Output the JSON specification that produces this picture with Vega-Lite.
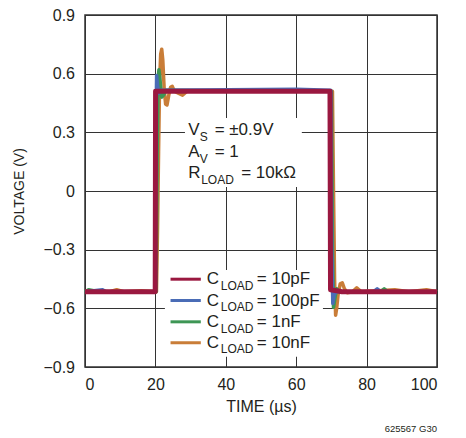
{
  "$schema": "https://vega.github.io/schema/vega-lite/v6.json",
  "autosize": {"type": "none"},
  "width": 352,
  "height": 352,
  "padding": {"left": 85, "top": 15, "right": 29, "bottom": 71},
  "background": "white",
  "data": {"values": [{}]},
  "config": {
    "view": {"stroke": "#333333", "strokeWidth": 1.5},
    "font": "Liberation Sans",
    "text": {"font": "Liberation Sans", "color": "#231F20"},
    "axis": {
      "grid": true, "gridColor": "#333333", "gridWidth": 1, "gridOpacity": 1,
      "domain": false, "ticks": false, "tickSize": 0,
      "labelFont": "Liberation Sans", "labelFontSize": 16, "labelColor": "#231F20",
      "titleFont": "Liberation Sans", "titleFontWeight": "normal", "titleColor": "#231F20"
    }
  },
  "datasets": {
    "traces": [
      {"s": "10nF", "t": 0, "v": -0.515}, {"s": "10nF", "t": 3, "v": -0.51}, {"s": "10nF", "t": 7, "v": -0.515}, {"s": "10nF", "t": 9, "v": -0.505}, {"s": "10nF", "t": 11, "v": -0.515}, {"s": "10nF", "t": 16, "v": -0.51}, {"s": "10nF", "t": 20.3, "v": -0.515},
      {"s": "10nF", "t": 20.6, "v": -0.2}, {"s": "10nF", "t": 20.9, "v": 0.2}, {"s": "10nF", "t": 21.2, "v": 0.56}, {"s": "10nF", "t": 21.5, "v": 0.7}, {"s": "10nF", "t": 21.8, "v": 0.725}, {"s": "10nF", "t": 22.1, "v": 0.67}, {"s": "10nF", "t": 22.5, "v": 0.52}, {"s": "10nF", "t": 22.9, "v": 0.445}, {"s": "10nF", "t": 23.3, "v": 0.44}, {"s": "10nF", "t": 23.8, "v": 0.49}, {"s": "10nF", "t": 24.3, "v": 0.53}, {"s": "10nF", "t": 24.8, "v": 0.535}, {"s": "10nF", "t": 25.4, "v": 0.51}, {"s": "10nF", "t": 26.5, "v": 0.5}, {"s": "10nF", "t": 27.7, "v": 0.49}, {"s": "10nF", "t": 29, "v": 0.51}, {"s": "10nF", "t": 45, "v": 0.512}, {"s": "10nF", "t": 70.3, "v": 0.51},
      {"s": "10nF", "t": 70.6, "v": 0.0}, {"s": "10nF", "t": 70.9, "v": -0.45}, {"s": "10nF", "t": 71.2, "v": -0.635}, {"s": "10nF", "t": 71.5, "v": -0.6}, {"s": "10nF", "t": 71.9, "v": -0.53}, {"s": "10nF", "t": 72.5, "v": -0.475}, {"s": "10nF", "t": 73.1, "v": -0.47}, {"s": "10nF", "t": 73.7, "v": -0.5}, {"s": "10nF", "t": 74.5, "v": -0.52}, {"s": "10nF", "t": 76, "v": -0.515}, {"s": "10nF", "t": 77.2, "v": -0.495}, {"s": "10nF", "t": 78.5, "v": -0.515}, {"s": "10nF", "t": 88, "v": -0.505}, {"s": "10nF", "t": 92, "v": -0.515}, {"s": "10nF", "t": 97, "v": -0.505}, {"s": "10nF", "t": 100, "v": -0.515},

      {"s": "1nF", "t": 0, "v": -0.515}, {"s": "1nF", "t": 1, "v": -0.505}, {"s": "1nF", "t": 4, "v": -0.515}, {"s": "1nF", "t": 20.2, "v": -0.515}, {"s": "1nF", "t": 20.5, "v": 0.2}, {"s": "1nF", "t": 20.8, "v": 0.58}, {"s": "1nF", "t": 21.0, "v": 0.62}, {"s": "1nF", "t": 21.3, "v": 0.57}, {"s": "1nF", "t": 21.8, "v": 0.48}, {"s": "1nF", "t": 22.3, "v": 0.49}, {"s": "1nF", "t": 23, "v": 0.515}, {"s": "1nF", "t": 50, "v": 0.51}, {"s": "1nF", "t": 70.0, "v": 0.51},
      {"s": "1nF", "t": 70.3, "v": -0.3}, {"s": "1nF", "t": 70.6, "v": -0.595}, {"s": "1nF", "t": 71.0, "v": -0.55}, {"s": "1nF", "t": 71.5, "v": -0.5}, {"s": "1nF", "t": 72.2, "v": -0.515}, {"s": "1nF", "t": 84, "v": -0.515}, {"s": "1nF", "t": 85, "v": -0.5}, {"s": "1nF", "t": 86, "v": -0.515}, {"s": "1nF", "t": 100, "v": -0.515},

      {"s": "100pF", "t": 0, "v": -0.515}, {"s": "100pF", "t": 5, "v": -0.505}, {"s": "100pF", "t": 6, "v": -0.515}, {"s": "100pF", "t": 19.9, "v": -0.515}, {"s": "100pF", "t": 20.1, "v": 0.3}, {"s": "100pF", "t": 20.35, "v": 0.59}, {"s": "100pF", "t": 20.6, "v": 0.54}, {"s": "100pF", "t": 21.0, "v": 0.5}, {"s": "100pF", "t": 21.6, "v": 0.515}, {"s": "100pF", "t": 60, "v": 0.52}, {"s": "100pF", "t": 69.8, "v": 0.515},
      {"s": "100pF", "t": 70.1, "v": -0.3}, {"s": "100pF", "t": 70.4, "v": -0.575}, {"s": "100pF", "t": 70.8, "v": -0.53}, {"s": "100pF", "t": 71.4, "v": -0.515}, {"s": "100pF", "t": 82, "v": -0.515}, {"s": "100pF", "t": 83, "v": -0.5}, {"s": "100pF", "t": 84, "v": -0.515}, {"s": "100pF", "t": 100, "v": -0.515},

      {"s": "10pF", "t": 0, "v": -0.515}, {"s": "10pF", "t": 19.95, "v": -0.515}, {"s": "10pF", "t": 20.05, "v": 0.51}, {"s": "10pF", "t": 69.6, "v": 0.51}, {"s": "10pF", "t": 69.75, "v": -0.505}, {"s": "10pF", "t": 71.5, "v": -0.51}, {"s": "10pF", "t": 73, "v": -0.515}, {"s": "10pF", "t": 100, "v": -0.515}
    ]
  },
  "layer": [
    {
      "mark": {"type": "rect", "color": "white"},
      "encoding": {
        "x": {"datum": 28.4, "type": "quantitative", "scale": {"domain": [0, 100], "nice": false},
          "axis": {"values": [0, 20, 40, 60, 80, 100], "title": "TIME (µs)", "titleFontSize": 16, "labelPadding": 9, "titlePadding": 6}},
        "x2": {"datum": 61.6},
        "y": {"datum": 0.373, "type": "quantitative", "scale": {"domain": [-0.9, 0.9], "nice": false},
          "axis": {"values": [-0.9, -0.6, -0.3, 0, 0.3, 0.6, 0.9], "labelExpr": "datum.value == 0 ? '0' : format(datum.value, '.1f')", "title": "VOLTAGE (V)", "titleFontSize": 14, "labelPadding": 10.5, "titlePadding": 16}},
        "y2": {"datum": 0.021}
      }
    },
    {
      "mark": {"type": "rect", "color": "white"},
      "encoding": {"x": {"datum": 22.7}, "x2": {"datum": 67.6}, "y": {"datum": -0.404}, "y2": {"datum": -0.848}}
    },
    {
      "data": {"name": "traces"},
      "transform": [{"filter": "datum.s == '10nF'"}],
      "mark": {"type": "line", "color": "#C97D38", "strokeWidth": 3.5, "strokeJoin": "round"},
      "encoding": {"x": {"field": "t", "type": "quantitative"}, "y": {"field": "v", "type": "quantitative"}}
    },
    {
      "data": {"name": "traces"},
      "transform": [{"filter": "datum.s == '1nF'"}],
      "mark": {"type": "line", "color": "#3E9655", "strokeWidth": 3.5, "strokeJoin": "round"},
      "encoding": {"x": {"field": "t", "type": "quantitative"}, "y": {"field": "v", "type": "quantitative"}}
    },
    {
      "data": {"name": "traces"},
      "transform": [{"filter": "datum.s == '100pF'"}],
      "mark": {"type": "line", "color": "#4A6CB6", "strokeWidth": 3.5, "strokeJoin": "round"},
      "encoding": {"x": {"field": "t", "type": "quantitative"}, "y": {"field": "v", "type": "quantitative"}}
    },
    {
      "data": {"name": "traces"},
      "transform": [{"filter": "datum.s == '10pF'"}],
      "mark": {"type": "line", "color": "#9A1840", "strokeWidth": 5, "strokeJoin": "round"},
      "encoding": {"x": {"field": "t", "type": "quantitative"}, "y": {"field": "v", "type": "quantitative"}}
    },

    {"mark": {"type": "text", "text": "V", "fontSize": 17, "align": "left", "baseline": "middle"}, "encoding": {"x": {"datum": 29.3}, "y": {"datum": 0.31}}},
    {"mark": {"type": "text", "text": "S", "fontSize": 12, "align": "left", "baseline": "middle", "dx": 11.7, "dy": 7}, "encoding": {"x": {"datum": 29.3}, "y": {"datum": 0.31}}},
    {"mark": {"type": "text", "text": "= ±0.9V", "fontSize": 17, "align": "left", "baseline": "middle", "dx": 26.5}, "encoding": {"x": {"datum": 29.3}, "y": {"datum": 0.31}}},
    {"mark": {"type": "text", "text": "A", "fontSize": 17, "align": "left", "baseline": "middle"}, "encoding": {"x": {"datum": 29.3}, "y": {"datum": 0.201}}},
    {"mark": {"type": "text", "text": "V", "fontSize": 12, "align": "left", "baseline": "middle", "dx": 11.5, "dy": 7}, "encoding": {"x": {"datum": 29.3}, "y": {"datum": 0.201}}},
    {"mark": {"type": "text", "text": "= 1", "fontSize": 17, "align": "left", "baseline": "middle", "dx": 26.5}, "encoding": {"x": {"datum": 29.3}, "y": {"datum": 0.201}}},
    {"mark": {"type": "text", "text": "R", "fontSize": 17, "align": "left", "baseline": "middle"}, "encoding": {"x": {"datum": 29.3}, "y": {"datum": 0.091}}},
    {"mark": {"type": "text", "text": "LOAD", "fontSize": 12, "align": "left", "baseline": "middle", "dx": 13, "dy": 7}, "encoding": {"x": {"datum": 29.3}, "y": {"datum": 0.091}}},
    {"mark": {"type": "text", "text": "= 10kΩ", "fontSize": 17, "align": "left", "baseline": "middle", "dx": 53}, "encoding": {"x": {"datum": 29.3}, "y": {"datum": 0.091}}},

    {"mark": {"type": "rule", "color": "#9A1840", "strokeWidth": 3}, "encoding": {"x": {"datum": 24.3}, "x2": {"datum": 32.9}, "y": {"datum": -0.451}}},
    {"mark": {"type": "text", "text": "C", "fontSize": 17, "align": "left", "baseline": "middle"}, "encoding": {"x": {"datum": 34.6}, "y": {"datum": -0.452}}},
    {"mark": {"type": "text", "text": "LOAD", "fontSize": 12, "align": "left", "baseline": "middle", "dx": 14, "dy": 6.5}, "encoding": {"x": {"datum": 34.6}, "y": {"datum": -0.452}}},
    {"mark": {"type": "text", "text": "= 10pF", "fontSize": 17, "align": "left", "baseline": "middle", "dx": 50}, "encoding": {"x": {"datum": 34.6}, "y": {"datum": -0.452}}},

    {"mark": {"type": "rule", "color": "#4A6CB6", "strokeWidth": 3}, "encoding": {"x": {"datum": 24.3}, "x2": {"datum": 32.9}, "y": {"datum": -0.56}}},
    {"mark": {"type": "text", "text": "C", "fontSize": 17, "align": "left", "baseline": "middle"}, "encoding": {"x": {"datum": 34.6}, "y": {"datum": -0.56}}},
    {"mark": {"type": "text", "text": "LOAD", "fontSize": 12, "align": "left", "baseline": "middle", "dx": 14, "dy": 6.5}, "encoding": {"x": {"datum": 34.6}, "y": {"datum": -0.56}}},
    {"mark": {"type": "text", "text": "= 100pF", "fontSize": 17, "align": "left", "baseline": "middle", "dx": 50}, "encoding": {"x": {"datum": 34.6}, "y": {"datum": -0.56}}},

    {"mark": {"type": "rule", "color": "#3E9655", "strokeWidth": 3}, "encoding": {"x": {"datum": 24.3}, "x2": {"datum": 32.9}, "y": {"datum": -0.669}}},
    {"mark": {"type": "text", "text": "C", "fontSize": 17, "align": "left", "baseline": "middle"}, "encoding": {"x": {"datum": 34.6}, "y": {"datum": -0.67}}},
    {"mark": {"type": "text", "text": "LOAD", "fontSize": 12, "align": "left", "baseline": "middle", "dx": 14, "dy": 6.5}, "encoding": {"x": {"datum": 34.6}, "y": {"datum": -0.67}}},
    {"mark": {"type": "text", "text": "= 1nF", "fontSize": 17, "align": "left", "baseline": "middle", "dx": 50}, "encoding": {"x": {"datum": 34.6}, "y": {"datum": -0.67}}},

    {"mark": {"type": "rule", "color": "#C97D38", "strokeWidth": 3}, "encoding": {"x": {"datum": 24.3}, "x2": {"datum": 32.9}, "y": {"datum": -0.776}}},
    {"mark": {"type": "text", "text": "C", "fontSize": 17, "align": "left", "baseline": "middle"}, "encoding": {"x": {"datum": 34.6}, "y": {"datum": -0.776}}},
    {"mark": {"type": "text", "text": "LOAD", "fontSize": 12, "align": "left", "baseline": "middle", "dx": 14, "dy": 6.5}, "encoding": {"x": {"datum": 34.6}, "y": {"datum": -0.776}}},
    {"mark": {"type": "text", "text": "= 10nF", "fontSize": 17, "align": "left", "baseline": "middle", "dx": 50}, "encoding": {"x": {"datum": 34.6}, "y": {"datum": -0.776}}},

    {"mark": {"type": "text", "text": "625567 G30", "fontSize": 9.5, "align": "right", "baseline": "middle"}, "encoding": {"x": {"datum": 100}, "y": {"datum": -1.217}}}
  ]
}
